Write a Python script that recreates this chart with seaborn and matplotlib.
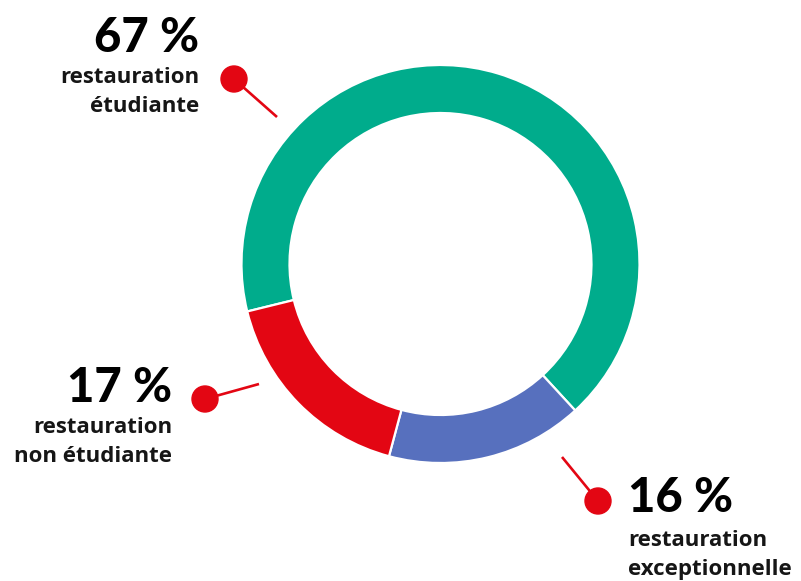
import matplotlib
matplotlib.use("Agg")
import matplotlib.pyplot as plt
import seaborn as sns
from matplotlib.patches import Circle

# ---- data ----
categories = ["restauration\nétudiante", "restauration\nexceptionnelle", "restauration\nnon étudiante"]
values = [67, 16, 17]
value_labels = ["67 %", "16 %", "17 %"]
colors = ["#00AC8C", "#5770BE", "#E30613"]
accent = "#E30613"

sns.set_theme(style="white")
plt.rcParams["font.family"] = ["Lato", "DejaVu Sans"]

W, H = 801, 581
fig = plt.figure(figsize=(W / 100, H / 100), dpi=100)
ax = fig.add_axes([0, 0, 1, 1])

def Y(py):
    return H - py

cx, cy = 440.5, Y(264)
R_out, width = 199, 48

ax.pie(values, colors=colors, startangle=193.8, counterclock=False,
       center=(cx, cy), radius=R_out,
       wedgeprops=dict(width=width, edgecolor="white", linewidth=1.6))

ax.set_xlim(0, W)
ax.set_ylim(0, H)
ax.set_aspect("equal")
ax.axis("off")

# ---- annotation layout (pixel positions) ----
# (dot center, line end, text anchor x, ha, value baseline, first label baseline)
layout = [
    ((234, 79), (277, 117), 199, "right", 52, 83),
    ((598, 501), (562, 457), 628, "left", 512, 546),
    ((205, 399), (259, 384), 172, "right", 402, 433),
]
line_gap = 28.5

for (dot, lend, tx, ha, vb, lb), cat, vl in zip(layout, categories, value_labels):
    ax.plot([dot[0], lend[0]], [Y(dot[1]), Y(lend[1])], color=accent, lw=1.9,
            solid_capstyle="butt", zorder=3)
    ax.add_patch(Circle((dot[0], Y(dot[1])), 13, color=accent, zorder=4))
    ax.text(tx, Y(vb), vl, ha=ha, va="baseline", fontsize=34,
            fontweight="black", color="#000000")
    for i, line in enumerate(cat.split("\n")):
        ax.text(tx, Y(lb + i * line_gap), line, ha=ha, va="baseline",
                fontsize=16, fontweight="bold", color="#161616",
                family=["Open Sans", "DejaVu Sans"])

fig.savefig("out.png", dpi=100, facecolor="white")
